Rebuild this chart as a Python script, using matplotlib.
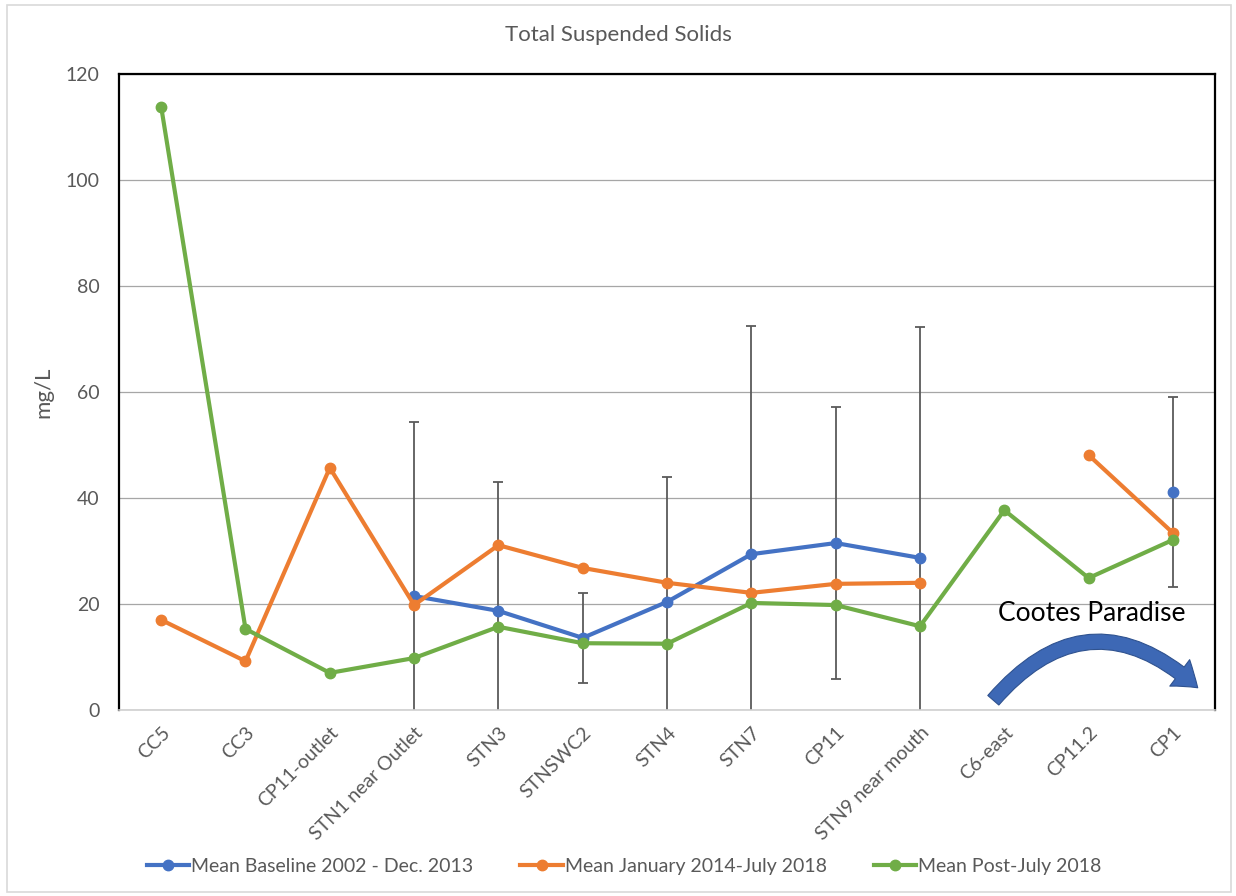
import numpy as np
import matplotlib.pyplot as plt
from matplotlib.patches import FancyArrowPatch, Rectangle

plt.rcParams["font.family"] = ["Lato", "DejaVu Sans"]

sites = ["CC5", "CC3", "CP11-outlet", "STN1 near Outlet", "STN3", "STNSWC2",
         "STN4", "STN7", "CP11", "STN9 near mouth", "C6-east", "CP11.2", "CP1"]

nan = np.nan
baseline = [nan, nan, nan, 21.5, 18.7, 13.6, 20.4, 29.4, 31.5, 28.7, nan, nan, 41.1]
baseline_err = [nan, nan, nan, 32.8, 24.3, 8.5, 23.6, 43.1, 25.7, 43.6, nan, nan, 17.9]
jan2014 = [17.0, 9.2, 45.7, 19.8, 31.1, 26.8, 24.0, 22.1, 23.8, 24.0, nan, 48.1, 33.4]
post2018 = [113.8, 15.3, 7.0, 9.8, 15.7, 12.6, 12.5, 20.2, 19.8, 15.8, 37.7, 24.9, 32.1]

series_names = ["Mean Baseline 2002 - Dec. 2013", "Mean January 2014-July 2018",
                "Mean Post-July 2018"]
colors = ["#4472C4", "#ED7D31", "#70AD47"]
yticks = [0, 20, 40, 60, 80, 100, 120]

grey = "#595959"

fig = plt.figure(figsize=(12.36, 8.96), dpi=100)
ax = fig.add_axes([0.0963, 0.2076, 0.8868, 0.7098])

x = np.arange(len(sites))

# error bars for the baseline series (drawn behind the lines)
ax.errorbar(x, baseline, yerr=baseline_err, fmt="none", ecolor="#5a5a5a",
            elinewidth=1.3, capsize=3.5, capthick=1.3, zorder=2)

handles = []
for vals, name, col in zip([baseline, jan2014, post2018], series_names, colors):
    (h,) = ax.plot(x, vals, color=col, lw=3, marker="o", ms=7.5,
                   label=name, zorder=3)
    handles.append(h)

ax.set_xlim(-0.5, len(sites) - 0.5)
ax.set_ylim(0, 120)
ax.set_yticks(yticks)
ax.set_xticks(x)
ax.set_xticklabels(sites, rotation=45, ha="right", rotation_mode="anchor")
ax.tick_params(axis="both", length=0, labelsize=14, labelcolor=grey)
ax.tick_params(axis="x", pad=10)
ax.tick_params(axis="y", pad=14)
ax.grid(axis="y", color="#a6a6a6", lw=0.9)
ax.set_axisbelow(True)
for side in ["left", "right", "top"]:
    ax.spines[side].set_color("black")
    ax.spines[side].set_linewidth(1.6)
ax.spines["bottom"].set_color("#d0d0d0")
ax.spines["bottom"].set_linewidth(1.2)

ax.set_ylabel("mg/L", fontsize=16, color=grey, labelpad=9)
fig.suptitle("Total Suspended Solids", y=0.961, va="center", fontsize=16, color=grey)

# annotation: Cootes Paradise with curved arrow
ax.text(0.887, 0.151, "Cootes Paradise", transform=ax.transAxes,
        ha="center", va="center", fontsize=19, color="black")
arrow = FancyArrowPatch((0.796, 0.012), (0.986, 0.032), transform=ax.transAxes,
                        connectionstyle="arc3,rad=-0.52",
                        arrowstyle="simple,head_width=1.7,head_length=1.2,tail_width=0.75",
                        mutation_scale=14, color="#3d68b5", ec="#2f528f", lw=0.8,
                        zorder=5, clip_on=False)
ax.add_patch(arrow)

fig.legend(handles=handles, loc="center", bbox_to_anchor=(0.505, 0.033),
           ncol=3, frameon=False, fontsize=14, handlelength=2.2,
           handletextpad=0.1, columnspacing=2.4, labelcolor=grey)

fig.add_artist(Rectangle((0.006, 0.004), 0.99, 0.99, transform=fig.transFigure,
                         fill=False, ec="#d9d9d9", lw=1.2))

fig.savefig("out.png", dpi=100)
